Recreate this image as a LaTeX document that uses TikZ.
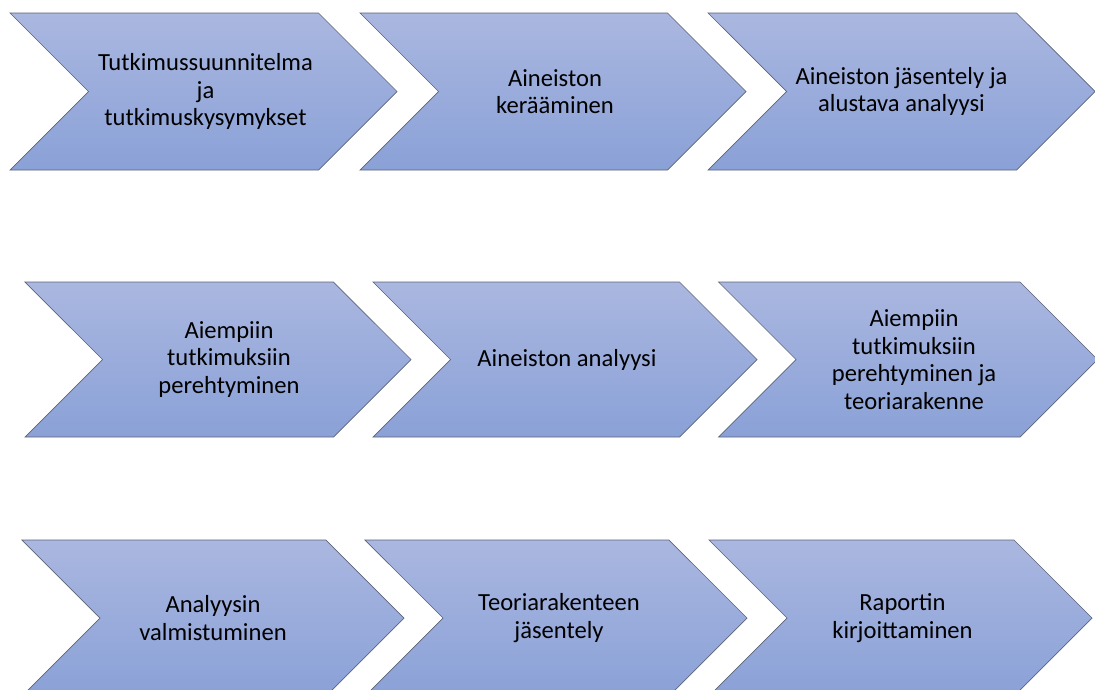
\documentclass[tikz,border=0pt]{standalone}
\usepackage{fontspec}
\setmainfont{Carlito}
\usetikzlibrary{shapes.symbols}
\definecolor{chevtop}{RGB}{170,183,224}
\definecolor{chevbot}{RGB}{138,161,215}
\definecolor{chevline}{RGB}{92,100,118}
\begin{document}
\begin{tikzpicture}[x=1pt,y=-1pt,
	chev/.style={signal,signal from=west,signal to=east,signal pointer angle=90,
	draw=chevline,line width=0.7pt,top color=chevtop,bottom color=chevbot,
	inner sep=0pt,outer sep=0pt},
	row1/.style={chev,minimum height=157pt},
	row2/.style={chev,minimum height=155pt},
	row3/.style={chev,minimum height=156pt},
	lbl/.style={align=center,font=\fontsize{24.6}{27.5}\selectfont,text=black}]
\useasboundingbox (0,0) rectangle (1095,689);
\clip (0,0) rectangle (1095,689);
\node[row1,minimum width=387pt] (c11) at (203.5,91.5) {};
\node[row1,minimum width=386pt] (c12) at (553,91.5) {};
\node[row1,minimum width=387pt] (c13) at (901.5,91.5) {};
\node[row2,minimum width=386pt] (c21) at (218,359.5) {};
\node[row2,minimum width=384pt] (c22) at (565,359.5) {};
\node[row2,minimum width=379pt] (c23) at (908,359.5) {};
\node[row3,minimum width=382pt] (c31) at (213,618) {};
\node[row3,minimum width=382pt] (c32) at (556,618) {};
\node[row3,minimum width=383pt] (c33) at (900.5,618) {};
\node[lbl] (t11) at ([xshift=2pt]c11.center) {Tutkimussuunnitelma\\ja\\tutkimuskysymykset};
\node[lbl] (t12) at ([xshift=2pt]c12.center) {Aineiston\\kerääminen};
\node[lbl] (t13) at (c13.center) {Aineiston jäsentely ja\\alustava analyysi};
\node[lbl] (t21) at ([xshift=11pt]c21.center) {Aiempiin\\tutkimuksiin\\perehtyminen};
\node[lbl] (t22) at ([xshift=2pt]c22.center) {Aineiston analyysi};
\node[lbl] (t23) at ([xshift=6pt]c23.center) {Aiempiin\\tutkimuksiin\\perehtyminen ja\\teoriarakenne};
\node[lbl] (t31) at (c31.center) {Analyysin\\valmistuminen};
\node[lbl] (t32) at ([xshift=3pt]c32.center) {Teoriarakenteen\\jäsentely};
\node[lbl] (t33) at ([xshift=2pt]c33.center) {Raportin\\kirjoittaminen};
\end{tikzpicture}
\end{document}
